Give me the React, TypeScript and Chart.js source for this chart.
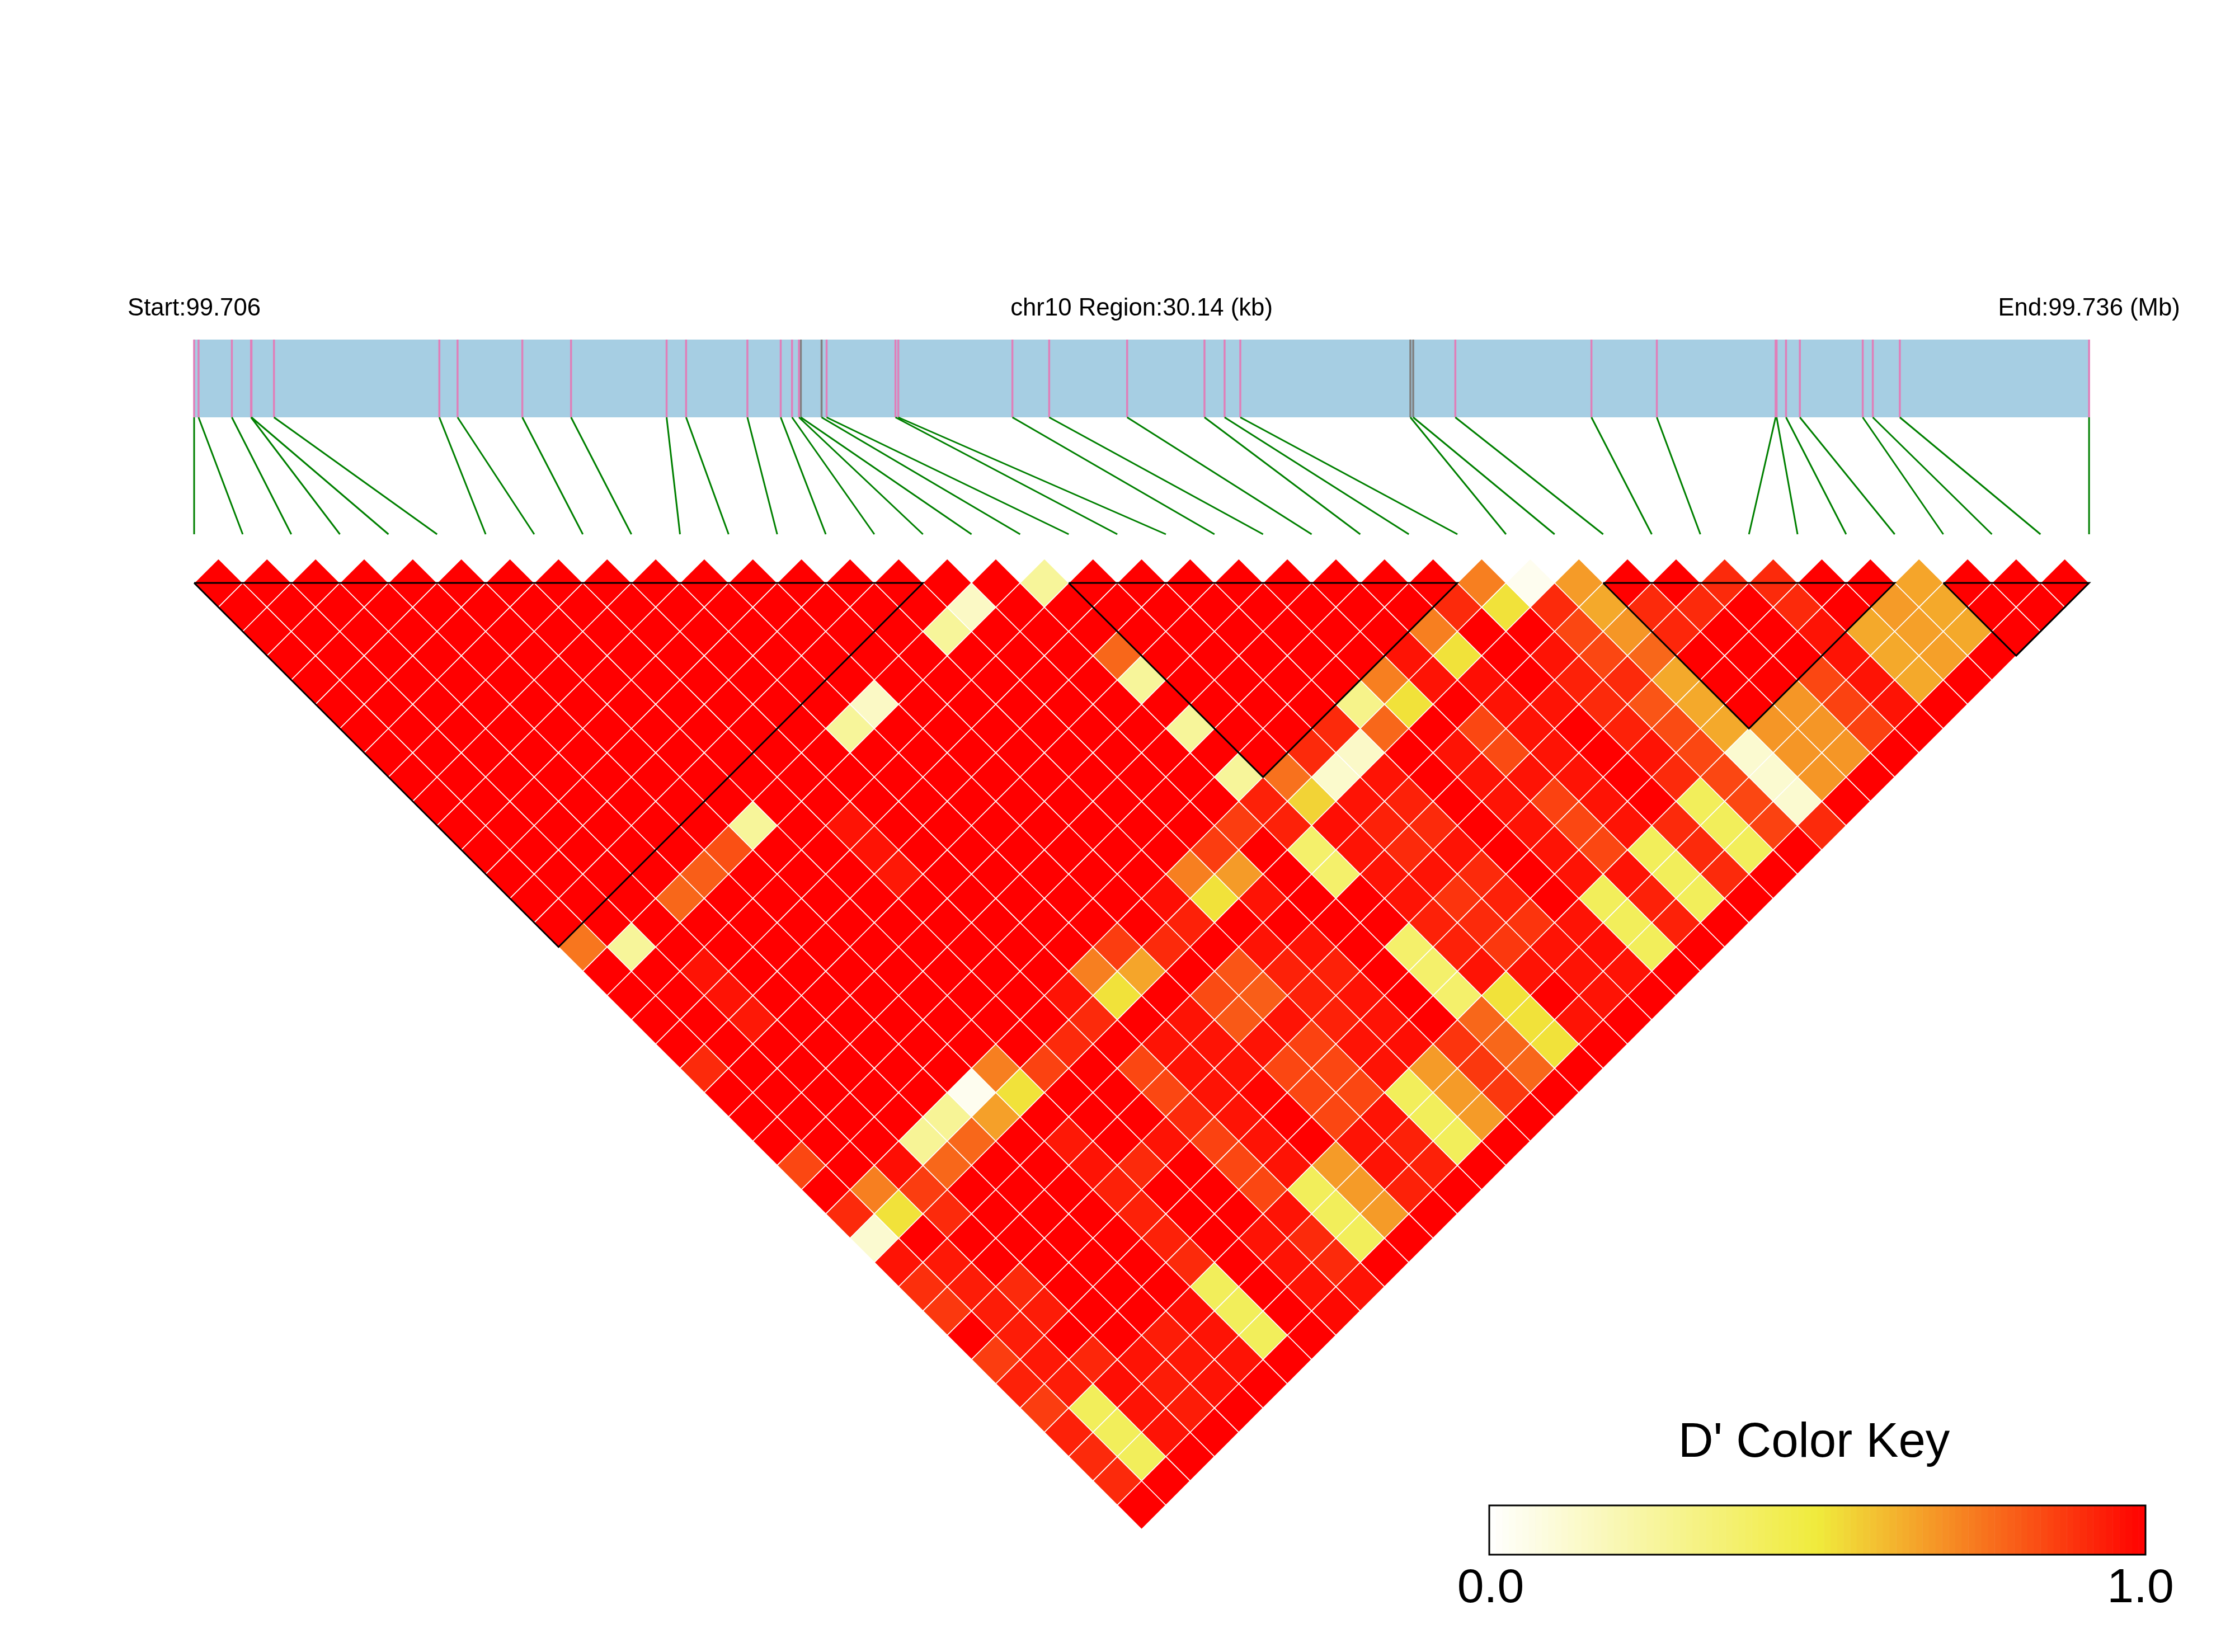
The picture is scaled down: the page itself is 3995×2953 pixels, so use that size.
import React, { useEffect, useRef } from "react";
import { Chart, registerables } from "chart.js";

Chart.register(...registerables);

// ---------- data ----------
const regionKb = 30.14;
const startLabel = "Start:99.706";
const regionLabel = "chr10 Region:30.14 (kb)";
const endLabel = "End:99.736 (Mb)";
const keyTitle = "D' Color Key";
const keyTicks = ["0.0", "1.0"];

// physical SNP positions along the region, kb from the start
const snpPositionsKb = [
  0, 0.07, 0.6, 0.905, 0.912, 1.27, 3.9, 4.19, 5.22, 5.995,
  7.515, 7.825, 8.8, 9.33, 9.51, 9.62, 9.65, 9.98, 10.06, 11.155,
  11.2, 13.015, 13.6, 14.84, 16.07, 16.39, 16.64, 19.345, 19.39, 20.06,
  22.225, 23.265, 25.155, 25.17, 25.32, 25.54, 26.54, 26.7, 27.13, 30.14,
];
const greySnps = [16, 17, 27, 28];

// LD blocks, first and last SNP index
const ldBlocks = [[0, 15], [18, 26], [29, 35], [36, 39]];

// D' by SNP pair: row i holds j = i+1 ... 39
const dPrimeRows: number[][] = [
  /* 0*/ [1,1,1,1,1,1,1,1,1,  1,1,1,1,1,1,.75,1,1,1,  1,.91,1,1,1,.85,1,.91,.12,.96,  .9,.88,1,.87,.93,.87,.93,.91,.91,1],
  /* 1*/ [1,1,1,1,1,1,1,1,  1,1,1,1,1,1,1,.26,1,1,  1,1,1,1,1,1,1,.73,.52,1,  .95,.94,.94,.94,.95,.94,.42,.42,.42,1],
  /* 2*/ [1,1,1,1,1,1,1,  1,1,1,1,1,1,1,1,1,.96,  .96,.95,1,1,1,1,1,.97,.87,.91,  1,1,.91,.94,1,.92,.97,.96,.96,1],
  /* 3*/ [1,1,1,1,1,1,  1,1,1,1,1,1,1,.78,1,1,  1,1,1,1,1,1,1,.27,.78,1,  1,1,1,1,1,1,.96,.94,.94,1],
  /* 4*/ [1,1,1,1,1,  1,1,1,1,1,1,1,.8,1,1,  1,1,1,1,1,1,1,.27,.78,1,  1,1,1,1,1,1,.94,.95,.96,1],
  /* 5*/ [1,1,1,1,  1,1,1,1,1,1,1,.83,1,1,  1,1,1,1,1,1,1,.04,.66,1,  1,1,1,1,1,1,.97,.96,.96,1],
  /* 6*/ [1,1,1,  1,1,1,1,1,1,1,.26,1,1,  1,1,1,1,1,1,1,.73,.52,1,  .95,.96,.93,.93,.93,.91,.42,.42,.42,1],
  /* 7*/ [1,1,  1,1,1,1,1,1,1,1,1,1,  1,1,1,1,1,1,1,1,.86,1,  1,1,.91,1,1,1,1,1,1,1],
  /* 8*/ [1,  1,1,1,1,1,1,1,1,1,.96,  .96,.95,1,1,1,1,1,1,.91,1,  1,1,.96,1,1,1,.96,.96,.96,.98],
  /* 9*/ [1,1,1,1,1,1,1,1,1,1,  1,1,1,1,1,1,1,.96,.91,1,  .85,.85,.91,.86,.85,.85,.96,.91,.91,.96],
  /*10*/ [1,1,1,1,1,1,.26,1,1,  1,1,1,1,1,1,1,.73,.52,1,  .96,.96,.96,.96,.96,.96,.42,.42,.42,1],
  /*11*/ [1,1,1,1,1,.15,1,1,  1,1,1,1,1,1,1,.87,.65,1,  .96,.96,.96,.99,1,1,.67,.67,.67,1],
  /*12*/ [1,1,1,1,1,1,1,  1,1,1,1,1,1,1,1,.91,1,  .84,.81,.96,.85,.85,.85,.96,.96,.93,1],
  /*13*/ [1,1,1,1,1,1,  1,1,1,1,1,1,1,.97,.93,1,  .82,.8,.96,.86,.85,.85,.96,.93,.93,1],
  /*14*/ [1,1,.26,1,1,  1,1,1,1,1,1,1,.73,.52,1,  .96,.93,.93,.93,.96,.96,.42,.42,.42,1],
  /*15*/ [1,.15,1,1,  1,1,1,1,1,1,1,.87,.67,.96,  1,.96,.93,.96,.96,.97,.67,.67,.67,1],
  /*16*/ [1,1,1,  1,1,1,1,1,1,1,.87,1,1,  1,1,1,1,1,1,.89,.88,.88,1],
  /*17*/ [.26,1,  1,.78,.26,1,.26,1,.26,.93,.93,.38,  .38,1,1,.38,.38,.38,.78,.78,.78,1],
  /*18*/ [1,  1,1,1,1,1,1,1,.76,.55,.97,  .96,.96,.96,.93,.93,.96,.52,.52,.52,1],
  /*19*/ [1,1,1,1,1,1,1,.91,.13,.96,  .93,.91,.96,.89,.91,.88,.96,1,.96,1],
  /*20*/ [1,1,1,1,1,1,.91,.14,.96,  .93,.91,.96,.91,.93,.89,.96,.96,.96,1],
  /*21*/ [1,1,1,1,1,.3,.78,1,  1,1,1,1,1,1,.96,.97,.96,1],
  /*22*/ [1,1,1,1,.73,.52,1,  .96,.96,.96,.96,.96,.96,.42,.42,.42,1],
  /*23*/ [1,1,1,.96,.96,1,  .85,.84,.96,.86,.85,.85,.96,.93,.93,1],
  /*24*/ [1,1,.73,.52,.97,  .96,.96,.96,.96,.96,.96,.42,.42,.42,1],
  /*25*/ [1,.91,1,1,  1,.96,1,1,1,1,.91,.91,.91,1],
  /*26*/ [.73,.52,1,  .96,.93,.91,.93,.96,.91,.42,.42,.42,1],
  /*27*/ [.04,.91,  .85,.85,.91,.82,.84,.85,.85,.85,.86,1],
  /*28*/ [.67,  .64,.68,.78,.64,.64,.64,.12,.12,.12,.91],
  /*29*/ [1,.91,.92,1,1,1,.68,.68,.68,1],
  /*30*/ [1,.91,1,1,1,.68,.68,.68,1],
  /*31*/ [.91,1,1,1,.85,.86,.86,1],
  /*32*/ [.91,.91,.96,.96,.96,.96,1],
  /*33*/ [1,1,.64,.64,.64,1],
  /*34*/ [1,.67,.66,.66,1],
  /*35*/ [.65,.64,.64,1],
  /*36*/ [1,1,1],
  /*37*/ [1,1],
  /*38*/ [1],
];

// colour key: value, r, g, b
const colorStops = [
  [0, 255, 255, 255],
  [0.5, 240, 235, 60],
  [1, 255, 0, 0],
];
const keySteps = 100;

// ---------- layout ----------
const W = 3995;
const H = 2953;
const leftPx = 347;
const stepPx = 86.85;
const topPx = 1042;
const rowPx = 43.38;
const keyLeftPx = 2662;
const keyRightPx = 3835;
const keyTopPx = 2691;
const keyBottomPx = 2779;
const barTopPx = 607;
const barBottomPx = 746;
const stubBottomPx = 955;
const FONT = '"Liberation Sans", Arial, sans-serif';

const yOf = (px: number) => (px - topPx) / rowPx;

function colorFor(v: number): string {
  for (let k = 1; k < colorStops.length; k++) {
    const a = colorStops[k - 1];
    const b = colorStops[k];
    if (v <= b[0]) {
      const t = (v - a[0]) / (b[0] - a[0]);
      const c = [1, 2, 3].map((n) => Math.round(a[n] + (b[n] - a[n]) * t));
      return `rgb(${c[0]},${c[1]},${c[2]})`;
    }
  }
  return "rgb(255,0,0)";
}

const kbToIndex = (kb: number) => (kb / regionKb) * (snpPositionsKb.length - 1);

export default function App() {
  const ref = useRef<HTMLCanvasElement | null>(null);

  useEffect(() => {
    document.body.style.margin = "0";
    document.body.style.background = "#fff";
    const cells: { x: number; y: number }[] = [];
    const cellColors: string[] = [];
    dPrimeRows.forEach((row, i) => {
      row.forEach((v, k) => {
        const j = i + 1 + k;
        cells.push({ x: (i + j) / 2, y: j - i - 1 });
        cellColors.push(colorFor(v));
      });
    });

    const gap = { x: null as any, y: null as any };
    const connectors: any[] = [];
    const pinkMarks: any[] = [];
    const greyMarks: any[] = [];
    snpPositionsKb.forEach((kb, i) => {
      const u = kbToIndex(kb);
      connectors.push({ x: u, y: yOf(barBottomPx) }, { x: i, y: yOf(stubBottomPx) }, gap);
      const target = greySnps.includes(i) ? greyMarks : pinkMarks;
      target.push({ x: u, y: yOf(barTopPx) }, { x: u, y: yOf(barBottomPx) }, gap);
    });

    const blockLines: any[] = [];
    ldBlocks.forEach(([a, b]) => {
      blockLines.push(
        { x: a, y: 0 },
        { x: b, y: 0 },
        { x: (a + b) / 2, y: b - a },
        { x: a, y: 0 },
        gap,
      );
    });

    const overlay = {
      id: "ldOverlay",
      beforeDatasetsDraw(chart: any) {
        const { ctx, scales } = chart;
        const x0 = scales.x.getPixelForValue(0);
        const x1 = scales.x.getPixelForValue(snpPositionsKb.length - 1);
        const y0 = scales.y.getPixelForValue(yOf(barTopPx));
        const y1 = scales.y.getPixelForValue(yOf(barBottomPx));
        ctx.save();
        ctx.fillStyle = "#A6CEE3";
        ctx.fillRect(x0, y0, x1 - x0, y1 - y0);
        ctx.restore();
      },
      afterDatasetsDraw(chart: any) {
        const { ctx, scales } = chart;
        ctx.save();
        ctx.fillStyle = "#000";
        ctx.textBaseline = "alphabetic";
        ctx.textAlign = "center";
        ctx.font = `43.7px ${FONT}`;
        const n = snpPositionsKb.length - 1;
        ctx.fillText(startLabel, scales.x.getPixelForValue(0), 564);
        ctx.fillText(regionLabel, scales.x.getPixelForValue(n / 2), 564);
        ctx.fillText(endLabel, scales.x.getPixelForValue(n), 564);

        const kx = scales.xKey;
        const top = keyTopPx;
        const bottom = keyBottomPx;
        for (let s = 0; s < keySteps; s++) {
          const a = kx.getPixelForValue(s / keySteps);
          const b = kx.getPixelForValue((s + 1) / keySteps);
          ctx.fillStyle = colorFor((s + 0.5) / keySteps);
          ctx.fillRect(a, top, b - a + 0.5, bottom - top);
        }
        ctx.strokeStyle = "#000";
        ctx.lineWidth = 3;
        const l = kx.getPixelForValue(0);
        const r = kx.getPixelForValue(1);
        ctx.strokeRect(l, top, r - l, bottom - top);

        ctx.fillStyle = "#000";
        ctx.font = `87px ${FONT}`;
        ctx.fillText(keyTitle, (l + r) / 2 - 6, 2604);
        ctx.font = `86px ${FONT}`;
        ctx.fillText(keyTicks[0], l + 2.5, 2864);
        ctx.fillText(keyTicks[1], r - 9, 2864);
        ctx.restore();
      },
    };

    const lineBase = { showLine: true, pointRadius: 0, tension: 0, fill: false, spanGaps: false };

    const chart = new Chart(ref.current as HTMLCanvasElement, {
      type: "scatter",
      plugins: [overlay],
      data: {
        datasets: [
          { ...lineBase, label: "LD blocks", data: blockLines, borderColor: "#000000", borderWidth: 3, borderJoinStyle: "miter" },
          { ...lineBase, label: "SNP connectors", data: connectors, borderColor: "#008000", borderWidth: 3 },
          { ...lineBase, label: "SNP marks", data: pinkMarks, borderColor: "#E07FB9", borderWidth: 3.5 },
          { ...lineBase, label: "SNP marks (grey)", data: greyMarks, borderColor: "#808080", borderWidth: 3.5 },
          {
            label: "D'",
            data: cells,
            pointStyle: "rectRot",
            pointRadius: 43.4,
            pointHoverRadius: 43.4,
            pointBorderColor: "#FFFFFF",
            pointBorderWidth: 1.6,
            pointBackgroundColor: cellColors,
          },
        ] as any,
      },
      options: {
        responsive: false,
        animation: false,
        devicePixelRatio: 1,
        layout: { padding: 0, autoPadding: false },
        events: [],
        plugins: { legend: { display: false }, title: { display: false }, tooltip: { enabled: false } },
        scales: {
          x: { type: "linear", display: false, min: -leftPx / stepPx, max: (W - leftPx) / stepPx },
          y: { type: "linear", display: false, reverse: true, min: -topPx / rowPx, max: (H - topPx) / rowPx },
          xKey: {
            type: "linear",
            axis: "x",
            display: false,
            min: -keyLeftPx / (keyRightPx - keyLeftPx),
            max: (W - keyLeftPx) / (keyRightPx - keyLeftPx),
          },
        },
      } as any,
    });
    return () => chart.destroy();
  }, []);

  return <canvas ref={ref} width={W} height={H} style={{ display: "block", width: W, height: H }} />;
}
